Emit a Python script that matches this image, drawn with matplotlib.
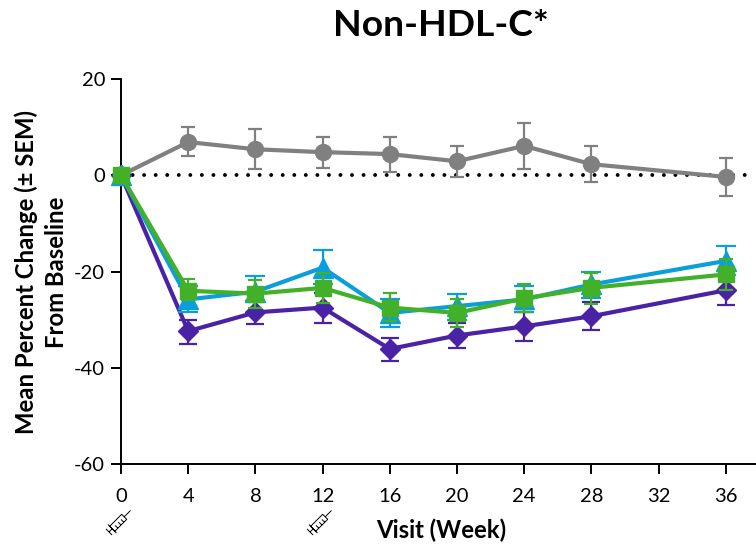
#!/usr/bin/env python3
"""Non-HDL-C percent change from baseline by visit week."""
import matplotlib

matplotlib.use("Agg")
import matplotlib.pyplot as plt
from matplotlib.path import Path
from matplotlib.transforms import Affine2D

plt.rcParams["font.family"] = ["Lato", "DejaVu Sans"]
plt.rcParams["axes.unicode_minus"] = False

WEEKS = [0, 4, 8, 12, 16, 20, 24, 28, 36]
SYRINGE_WEEKS = [0, 12]
X_TICKS = [0, 4, 8, 12, 16, 20, 24, 28, 32, 36]
Y_TICKS = [20, 0, -20, -40, -60]

# values and (lower, upper) error bar ends
GREY = [0, 6.9, 5.4, 4.8, 4.4, 2.9, 6.1, 2.3, -0.35]
GREY_LO = [0, 4.1, 1.25, 1.5, 0.6, -0.4, 1.25, -1.5, -4.3]
GREY_HI = [0, 10.0, 9.7, 8.0, 8.0, 6.1, 10.8, 6.1, 3.5]

PURPLE = [0, -32.4, -28.5, -27.5, -36.1, -33.3, -31.4, -29.3, -23.9]
PURPLE_LO = [0, -35.0, -31.0, -30.6, -38.6, -35.8, -34.5, -32.1, -26.9]
PURPLE_HI = [0, -30.0, -26.0, -24.5, -33.8, -30.8, -28.5, -26.3, -21.0]

BLUE = [0, -25.8, -24.2, -19.2, -28.6, -27.2, -25.8, -22.7, -17.8]
BLUE_LO = [0, -28.4, -26.2, -22.5, -31.5, -30.0, -28.5, -25.6, -20.8]
BLUE_HI = [0, -23.0, -21.0, -15.6, -25.7, -24.6, -23.0, -20.0, -14.7]

GREEN = [0, -24.0, -24.6, -23.4, -27.5, -28.6, -25.6, -23.4, -20.6]
GREEN_LO = [0, -26.0, -27.5, -26.5, -30.2, -31.5, -28.5, -26.7, -23.8]
GREEN_HI = [0, -21.5, -21.7, -20.4, -24.5, -25.8, -22.6, -20.3, -17.5]

# values, lo, hi, colour, marker, marker size, cap size
SERIES = [
    (GREY, GREY_LO, GREY_HI, "#808080", "o", 11.5, 5.3),
    (PURPLE, PURPLE_LO, PURPLE_HI, "#4a22a5", "D", 10.5, 6.6),
    (BLUE, BLUE_LO, BLUE_HI, "#0a9fdc", "^", 14.0, 7.2),
    (GREEN, GREEN_LO, GREEN_HI, "#43b02a", "s", 11.5, 5.3),
]


def syringe_marker():
    """Small syringe outline, plunger at lower left."""
    verts, codes = [], []
    segs = [
        [(-0.5, -0.2), (0.45, -0.2), (0.45, 0.2), (-0.5, 0.2), (-0.5, -0.2)],
        [(-0.5, -0.34), (-0.5, 0.34)],
        [(-0.75, 0), (-0.5, 0)],
        [(-0.75, -0.24), (-0.75, 0.24)],
        [(0.45, 0), (0.95, 0)],
        [(-0.25, -0.2), (-0.25, 0.02)],
        [(0.0, -0.2), (0.0, 0.02)],
        [(0.22, -0.2), (0.22, 0.02)],
    ]
    for seg in segs:
        verts += seg
        codes += [Path.MOVETO] + [Path.LINETO] * (len(seg) - 1)
    return Path(verts, codes).transformed(Affine2D().rotate_deg(45))


fig = plt.figure(figsize=(7.56, 5.45), dpi=100)
ax = fig.add_axes([121 / 756, 81 / 545, 635 / 756, 385 / 545])

ax.axhline(0, color="black", lw=2.8, ls=(0, (0.01, 2.96)),
           dash_capstyle="round", zorder=1)

for i, (vals, lo, hi, color, mk, ms, cap) in enumerate(SERIES):
    err = [[v - l for v, l in zip(vals[1:], lo[1:])],
           [h - v for v, h in zip(vals[1:], hi[1:])]]
    ax.errorbar(WEEKS[1:], vals[1:], yerr=err, fmt="none", ecolor=color,
                elinewidth=1.6, capsize=cap, capthick=1.6, zorder=2 + i)
    ax.plot(WEEKS, vals, color=color, lw=3.0, marker=mk, ms=ms, mec=color,
            clip_on=False, zorder=2.5 + i)

ax.plot([w - 0.2 for w in SYRINGE_WEEKS], [-72] * len(SYRINGE_WEEKS),
        ls="none", marker=syringe_marker(), ms=18, mfc="none", mec="black",
        mew=0.7, clip_on=False)

ax.set_xlim(0, 37.8)
ax.set_ylim(-60, 20)
ax.set_xticks(X_TICKS)
ax.set_yticks(Y_TICKS)
ax.tick_params(length=7.5, width=1.4, labelsize=14.5, color="black")
ax.tick_params(axis="x", pad=10)
ax.tick_params(axis="y", pad=4)
for side in ("top", "right"):
    ax.spines[side].set_visible(False)
for side in ("left", "bottom"):
    ax.spines[side].set_linewidth(1.4)

fig.text(441 / 756, 1 - 26 / 545, "Non-HDL-C*", ha="center", va="center",
         fontsize=26.8, fontweight="bold")
fig.text(441 / 756, 1 - 530 / 545, "Visit (Week)", ha="center", va="center",
         fontsize=17.2, fontweight="bold")
fig.text(41 / 756, 1 - 272 / 545, "Mean Percent Change (\u00b1 SEM)\nFrom Baseline",
         ha="center", va="center", rotation=90, fontsize=17.2,
         fontweight="bold", linespacing=1.35)

fig.savefig("out.png", dpi=100)
